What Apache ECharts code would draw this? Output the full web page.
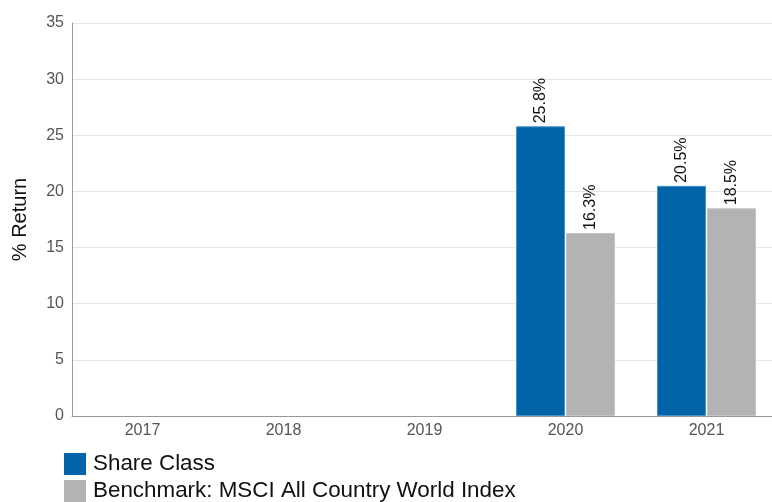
<!DOCTYPE html>
<html><head><meta charset="utf-8">
<script src="https://cdn.jsdelivr.net/npm/echarts@6/dist/echarts.min.js"></script>
<style>html,body{margin:0;padding:0;background:#fff}#c{width:772px;height:502px}</style>
</head><body><div id="c"></div>
<script>
const categories = ['2017','2018','2019','2020','2021'];
const shareClass = [null, null, null, 25.8, 20.5];
const benchmark = [null, null, null, 16.3, 18.5];
const seriesNames = ['Share Class', 'Benchmark: MSCI All Country World Index'];

const chart = echarts.init(document.getElementById('c'), null, {renderer:'canvas'});
const lbl = {
  show: true, position: 'top', rotate: 90, align: 'left', verticalAlign: 'middle',
  distance: 3,
  fontFamily: 'Liberation Sans, Arial, sans-serif', fontSize: 16, color: '#111',
  formatter: p => p.value == null ? '' : p.value.toFixed(1) + '%'
};
chart.setOption({
  animation: false,
  textStyle: {fontFamily: 'Liberation Sans, Arial, sans-serif'},
  grid: {left: 72, right: -5, top: 23, bottom: 86, containLabel: false, outerBoundsMode: 'none'},
  legend: {
    orient: 'vertical', left: 64, top: 453, padding: 0,
    itemWidth: 22, itemHeight: 22, itemGap: 5,
    icon: 'rect', itemStyle: {borderWidth: 0},
    textStyle: {fontSize: 22.4, color: '#111', padding: [0,0,0,2]},
    data: seriesNames
  },
  xAxis: {
    type: 'category', data: categories,
    axisLine: {lineStyle: {color: '#999'}}, axisTick: {show: false},
    axisLabel: {color: '#555', fontSize: 16, margin: 7}
  },
  yAxis: {
    type: 'value', min: 0, max: 35, interval: 5,
    name: '% Return', nameLocation: 'middle', nameGap: 42, nameRotate: 90,
    nameTextStyle: {fontSize: 20, color: '#111'},
    axisLine: {show: true, lineStyle: {color: '#999'}}, axisTick: {show: false},
    axisLabel: {color: '#555', fontSize: 16, margin: 8},
    splitLine: {lineStyle: {color: '#e6e6e6'}}
  },
  series: [
    {name: seriesNames[0], type: 'bar', data: shareClass, barWidth: 49, barGap: '2%',
     itemStyle: {color: '#0064a8', borderColor: '#4a90c8', borderWidth: 1},
     label: lbl},
    {name: seriesNames[1], type: 'bar', data: benchmark, barWidth: 49,
     itemStyle: {color: '#b3b3b3', borderColor: '#c4c4c4', borderWidth: 1},
     label: lbl}
  ]
});
</script></body></html>
